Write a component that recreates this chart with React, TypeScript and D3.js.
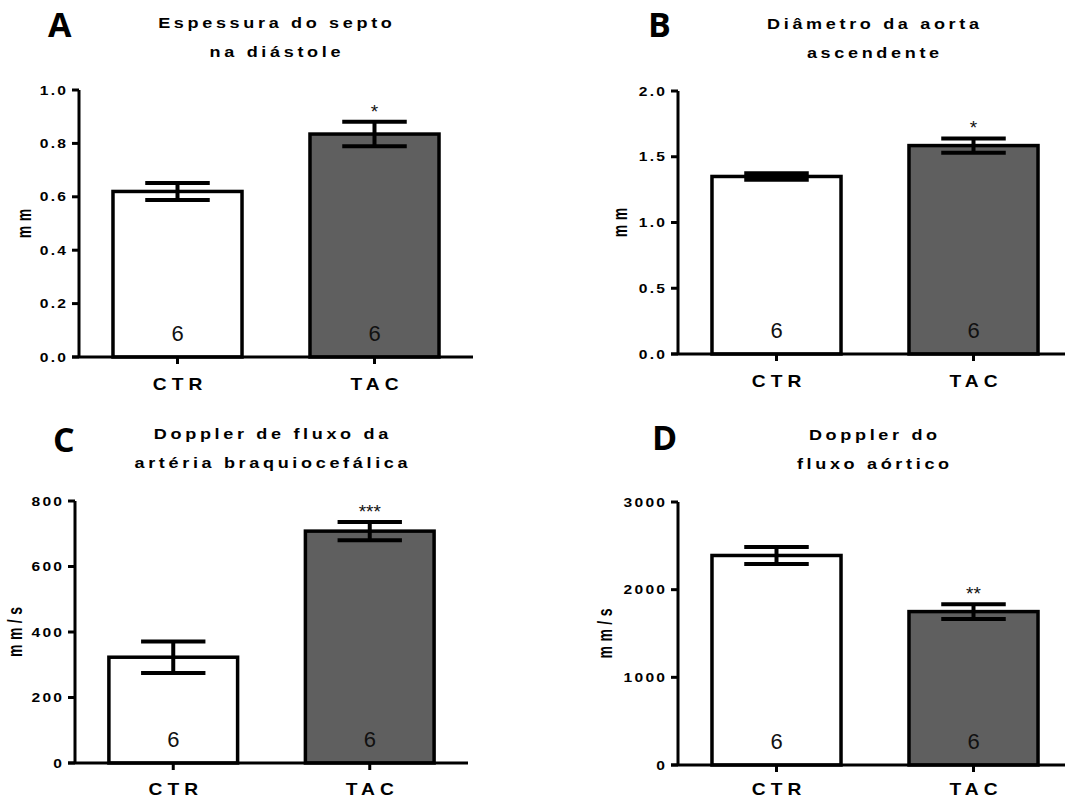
import React from "react";
import * as d3 from "d3";

// dados (média ± EPM, n = 6 por grupo)
const groups = ["CTR", "TAC"];
const panelLetters = ["A", "B", "C", "D"];
const titleLines = [
  ["Espessura do septo", "na diástole"],
  ["Diâmetro da aorta", "ascendente"],
  ["Doppler de fluxo da", "artéria braquiocefálica"],
  ["Doppler do", "fluxo aórtico"],
];
const yUnits = ["mm", "mm", "mm/s", "mm/s"];
const meanValues = [
  [0.62, 0.835],
  [1.35, 1.585],
  [323, 708],
  [2390, 1750],
];
const semValues = [
  [0.032, 0.046],
  [0.025, 0.054],
  [48, 28],
  [97, 85],
];
const yDomainMax = [1.0, 2.0, 800, 3000];
const yTickValues = [
  [0, 0.2, 0.4, 0.6, 0.8, 1.0],
  [0, 0.5, 1.0, 1.5, 2.0],
  [0, 200, 400, 600, 800],
  [0, 1000, 2000, 3000],
];
const yTickDecimals = [1, 1, 0, 0];
const sampleSizes = [
  [6, 6],
  [6, 6],
  [6, 6],
  [6, 6],
];
const significance = ["*", "*", "***", "**"];
const barFills = ["#ffffff", "#5f5f5f"];

// posição de cada painel na página
const layout = [
  { letterX: 48, letterY: 37, axisX: 79, top: 90, zero: 357, right: 473, titleX: 275, yLabelX: 26 },
  { letterX: 648, letterY: 37, axisX: 678, top: 91, zero: 354, right: 1072, titleX: 873, yLabelX: 622 },
  { letterX: 53, letterY: 452, axisX: 75, top: 501, zero: 763, right: 468, titleX: 271, yLabelX: 17 },
  { letterX: 652, letterY: 450, axisX: 678, top: 502, zero: 765, right: 1072, titleX: 873, yLabelX: 607 },
];

const ARIAL = "'Liberation Sans', Arial, Helvetica, sans-serif";
const LETTER_FONT = "'Open Sans', 'Noto Sans', sans-serif";

// texto em negrito "esticado" na horizontal como na figura original
function WideText({ x, y, sx, size, ls, anchor, children, weight = 700 }: any) {
  const dx = anchor === "middle" ? ls / 2 : anchor === "end" ? ls : 0;
  return (
    <text
      transform={`translate(${x},${y}) scale(${sx},1)`}
      textAnchor={anchor}
      fontFamily={ARIAL}
      fontWeight={weight}
      fontSize={size}
      letterSpacing={ls}
      dx={dx}
      fill="#000"
    >
      {children}
    </text>
  );
}

function Panel({ idx }: { idx: number }) {
  const L = layout[idx];
  const y = d3.scaleLinear().domain([0, yDomainMax[idx]]).range([L.zero, L.top]);
  const x = d3.scalePoint().domain(groups).range([L.axisX, L.right]).padding(0.5);
  const barW = x.step() * 0.655;
  const capW = barW * 0.5;
  const fmt = d3.format(`.${yTickDecimals[idx]}f`);

  return (
    <g>
      {/* letra do painel */}
      <text x={L.letterX} y={L.letterY} fontFamily={LETTER_FONT} fontWeight={700} fontSize={34} fill="#000">
        {panelLetters[idx]}
      </text>

      {/* título */}
      {titleLines[idx].map((t, i) => (
        <WideText key={i} x={L.titleX} y={L.top - 62 + i * 29} sx={1.22} size={14.8} ls={3} anchor="middle">
          {t}
        </WideText>
      ))}

      {/* barras */}
      {groups.map((g, i) => (
        <rect
          key={g}
          x={(x(g) as number) - barW / 2}
          y={y(meanValues[idx][i])}
          width={barW}
          height={L.zero - y(meanValues[idx][i])}
          fill={barFills[i]}
          stroke="#000"
          strokeWidth={3.5}
        />
      ))}

      {/* barras de erro */}
      {groups.map((g, i) => {
        const cx = x(g) as number;
        const hi = y(meanValues[idx][i] + semValues[idx][i]);
        const lo = y(meanValues[idx][i] - semValues[idx][i]);
        return (
          <g key={g} stroke="#000" strokeWidth={4}>
            <line x1={cx} x2={cx} y1={hi} y2={lo} />
            <line x1={cx - capW / 2} x2={cx + capW / 2} y1={hi} y2={hi} />
            <line x1={cx - capW / 2} x2={cx + capW / 2} y1={lo} y2={lo} />
          </g>
        );
      })}

      {/* n dentro das barras */}
      {groups.map((g, i) => (
        <text
          key={g}
          x={x(g) as number}
          y={L.zero - 16}
          textAnchor="middle"
          fontFamily={ARIAL}
          fontSize={22}
          fill="#111"
        >
          {sampleSizes[idx][i]}
        </text>
      ))}

      {/* asteriscos no TAC */}
      <text
        x={x("TAC") as number}
        y={y(meanValues[idx][1] + semValues[idx][1]) - 4}
        textAnchor="middle"
        fontFamily={ARIAL}
        fontSize={19}
        fill="#111"
      >
        {significance[idx]}
      </text>

      {/* eixo Y */}
      <line x1={L.axisX} x2={L.axisX} y1={L.top} y2={L.zero} stroke="#000" strokeWidth={3} />
      {yTickValues[idx].map((t) => (
        <g key={t}>
          <line x1={L.axisX - 7} x2={L.axisX} y1={y(t)} y2={y(t)} stroke="#000" strokeWidth={3} />
          <WideText x={L.axisX - 13} y={y(t) + 4.5} sx={1.25} size={12.5} ls={1.8} anchor="end">
            {fmt(t)}
          </WideText>
        </g>
      ))}

      {/* eixo X */}
      <line x1={L.axisX - 7} x2={L.right} y1={L.zero} y2={L.zero} stroke="#000" strokeWidth={3} />
      {groups.map((g) => (
        <g key={g}>
          <line x1={x(g) as number} x2={x(g) as number} y1={L.zero} y2={L.zero + 7} stroke="#000" strokeWidth={3} />
          <WideText x={x(g) as number} y={Math.min(L.zero + 33, 795)} sx={1.2} size={16} ls={4.2} anchor="middle">
            {g}
          </WideText>
        </g>
      ))}

      {/* rótulo do eixo Y */}
      <text
        transform={`translate(${L.yLabelX + 5},${(L.top + L.zero) / 2}) scale(1.4,1) rotate(-90)`}
        textAnchor="middle"
        fontFamily={ARIAL}
        fontWeight={700}
        fontSize={14}
        letterSpacing={4.5}
        dx={2.25}
        fill="#000"
      >
        {yUnits[idx]}
      </text>
    </g>
  );
}

export default function App() {
  return (
    <div style={{ position: "absolute", left: 0, top: 0 }}>
      <svg width={1065} height={800} style={{ display: "block", background: "#fff" }}>
        {panelLetters.map((_, i) => (
          <Panel key={i} idx={i} />
        ))}
      </svg>
    </div>
  );
}
